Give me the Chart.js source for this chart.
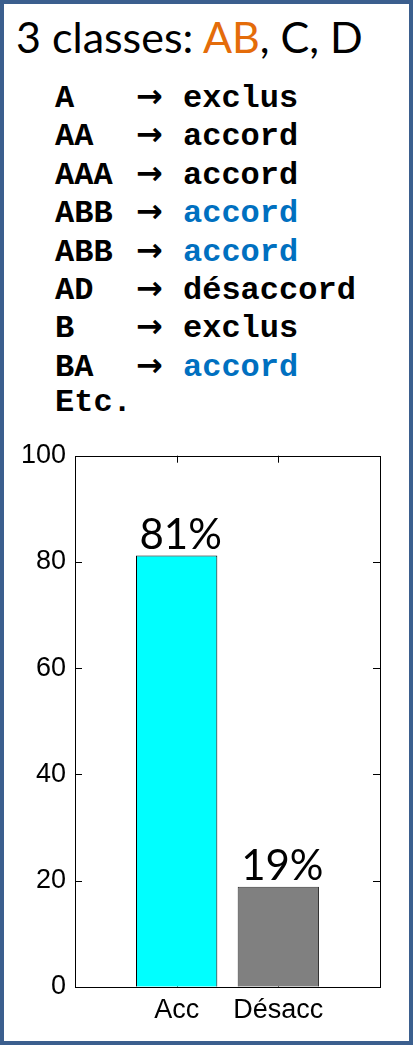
<!DOCTYPE html>
<html>
<head>
<meta charset="utf-8">
<script src="https://cdn.jsdelivr.net/npm/chart.js@4.4.1/dist/chart.umd.min.js"></script>
<style>
  html, body { margin:0; padding:0; background:#fff; }
  #page { position:relative; width:416px; height:1048px; overflow:hidden; }
  #frame { position:absolute; left:0; top:0; width:405px; height:1037px; border:4px solid #3b5f8e; }
  #title { position:absolute; left:16px; top:11px; font-family:Lato, "Open Sans", sans-serif; font-size:43px; color:#000; white-space:nowrap; }
  #title .or { color:#e46c0a; }
  .row { position:absolute; left:55px; font-family:"Liberation Mono", monospace; font-weight:bold; font-size:32px; line-height:36px; color:#000; white-space:nowrap; }
  .row span { display:inline-block; }
  .row .k { width:81px; }
  .row .a { width:47px; font-family:"DejaVu Sans", sans-serif; font-weight:bold; font-size:32px; }
  .row .blue { color:#0070c0; }
  #chartBox { position:absolute; left:0; top:430px; width:416px; height:610px; }
</style>
</head>
<body>
<div id="page">
  <div id="frame"></div>
  <div id="title">3 classes: <span class="or">AB</span>, C, D</div>
  <div id="rules"></div>
  <div id="chartBox"><canvas id="bar_chart" width="416" height="610"></canvas></div>
</div>
<script>
// regles de classement
let ruleKeys = ["A", "AA", "AAA", "ABB", "ABB", "AD", "B", "BA", "Etc."];
let ruleVals = ["exclus", "accord", "accord", "accord", "accord", "désaccord", "exclus", "accord", ""];
let ruleBlue = [false, false, false, true, true, false, false, true, false];

// donnees du graphique (axe de 0 a 3, barres en 1 et 2)
let catLabels = ["", "Acc", "Désacc", ""];
let barVals = [null, 81.2, 18.8, null];
let barText = [null, "81%", "19%", null];
let barColors = ["#00ffff", "#00ffff", "#808080", "#808080"];
let yTicks = [0, 20, 40, 60, 80, 100];

for(let i=0; i<ruleKeys.length; i++){
    let row = document.createElement("div");
    row.className = "row";
    row.style.top = (78 + i*38.4) + "px";
    let html = '<span class="k">'+ruleKeys[i]+'</span>';
    if(ruleVals[i] != ""){
        html += '<span class="a">→</span><span class="'+(ruleBlue[i] ? "blue" : "")+'">'+ruleVals[i]+'</span>';
    }
    row.innerHTML = html;
    document.getElementById("rules").appendChild(row);
}

// cadre + graduations interieures facon matlab
let matlabAxes = {
    id:"matlabAxes",
    beforeDatasetsDraw:function(chart){
        let ctx = chart.ctx, a = chart.chartArea;
        let xs = chart.scales.x, ys = chart.scales.y;
        ctx.save();
        ctx.strokeStyle = "#000";
        ctx.lineWidth = 1;
        ctx.beginPath();
        for(let i=1; i<catLabels.length-1; i++){
            let px = Math.round(xs.getPixelForValue(i)) + 0.5;
            ctx.moveTo(px, a.top); ctx.lineTo(px, a.top + 7);
            ctx.moveTo(px, a.bottom); ctx.lineTo(px, a.bottom - 7);
        }
        for(let i=0; i<yTicks.length; i++){
            let py = Math.round(ys.getPixelForValue(yTicks[i])) + 0.5;
            ctx.moveTo(a.left, py); ctx.lineTo(a.left + 7, py);
            ctx.moveTo(a.right, py); ctx.lineTo(a.right - 7, py);
        }
        ctx.stroke();
        ctx.restore();
    },
    afterDatasetsDraw:function(chart){
        let ctx = chart.ctx, a = chart.chartArea;
        ctx.save();
        ctx.strokeStyle = "#000";
        ctx.lineWidth = 1;
        ctx.strokeRect(Math.round(a.left)+0.5, Math.round(a.top)+0.5, Math.round(a.right-a.left), Math.round(a.bottom-a.top));
        // pourcentages au dessus des barres
        let meta = chart.getDatasetMeta(0);
        ctx.fillStyle = "#000";
        ctx.font = "42px Lato, 'Open Sans', sans-serif";
        ctx.textAlign = "center";
        ctx.textBaseline = "alphabetic";
        meta.data.forEach(function(bar, i){
            if(barText[i] == null) return;
            ctx.fillText(barText[i], bar.x + 4, bar.y - 7);
        });
        ctx.restore();
    }
};

let barChart = new Chart(document.getElementById("bar_chart"), {
    type:"bar",
    plugins:[matlabAxes],
    data:{
        labels:catLabels,
        datasets:[{
            data:barVals,
            backgroundColor:barColors,
            borderColor:["#000", "#000", "#333", "#333"],
            borderWidth:1,
            categoryPercentage:1,
            barPercentage:0.8
        }]
    },
    options:{
        responsive:false,
        animation:false,
        layout:{ padding:{ left:0, right:36, top:25.7, bottom:0 } },
        plugins:{ legend:{ display:false }, tooltip:{ enabled:false } },
        scales:{
            x:{
                offset:false,
                grid:{ display:false, drawTicks:false },
                border:{ display:false },
                ticks:{ color:"#000", font:{ family:"'Liberation Sans', Arial", size:27 }, padding:8, maxRotation:0, autoSkip:false },
                afterFit:function(s){ s.height = 53.3; }
            },
            y:{
                min:0, max:100,
                grid:{ display:false, drawTicks:false },
                border:{ display:false },
                afterBuildTicks:function(s){ s.ticks = yTicks.map(function(v){ return {value:v}; }); },
                ticks:{ color:"#000", font:{ family:"'Liberation Sans', Arial", size:27 }, padding:9 },
                afterFit:function(s){ s.width = 75; }
            }
        }
    }
});
</script>
</body>
</html>
